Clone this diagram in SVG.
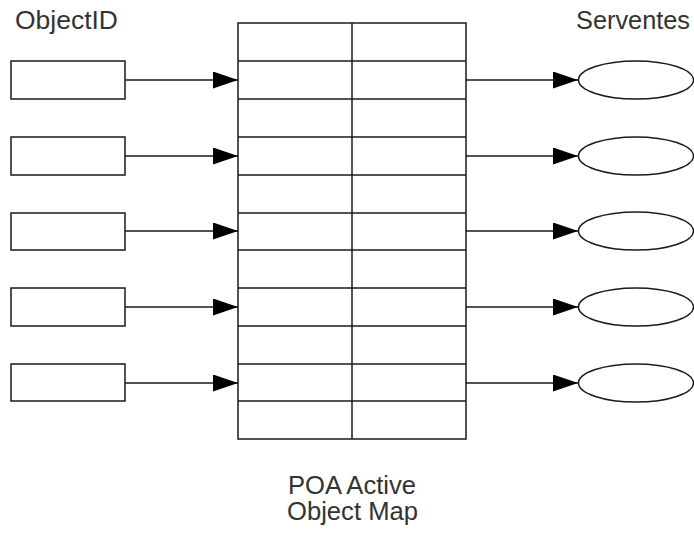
<svg xmlns="http://www.w3.org/2000/svg" width="694" height="534" viewBox="0 0 694 534">
<style>
.box{fill:#fff;stroke:#1a1a1a;stroke-width:1.5}
.tbl{fill:none;stroke:#1a1a1a;stroke-width:1.5}
.con{stroke:#1a1a1a;stroke-width:1.5;fill:none}
.lbl{font-family:"Liberation Sans",Arial,sans-serif;font-size:25px;fill:#333}
</style>
<defs>
<marker id="ah" markerUnits="userSpaceOnUse" markerWidth="26" markerHeight="18" refX="25" refY="8.5" orient="auto">
<path d="M0,0 L25,8.5 L0,17 Z" fill="#000"/>
</marker>
</defs>
<rect width="694" height="534" fill="#fff"/>
<text class="lbl" x="15" y="29" textLength="103" lengthAdjust="spacingAndGlyphs">ObjectID</text>
<text class="lbl" x="576" y="29" textLength="114" lengthAdjust="spacingAndGlyphs">Serventes</text>
<g id="map">
<rect class="tbl" x="238" y="23" width="228" height="416"/>
<line class="tbl" x1="352" y1="23" x2="352" y2="439"/>
<path class="tbl" d="M238,61H466M238,99H466M238,137H466M238,175H466M238,213H466M238,250H466M238,288H466M238,326H466M238,364H466M238,401H466"/>
<text class="lbl" x="288" y="494" textLength="128" lengthAdjust="spacingAndGlyphs">POA Active</text>
<text class="lbl" x="287" y="520" textLength="131" lengthAdjust="spacingAndGlyphs">Object Map</text>
</g>
<g id="oid1"><rect class="box" x="11" y="61" width="114" height="38"/></g>
<g id="oid2"><rect class="box" x="11" y="137" width="114" height="38"/></g>
<g id="oid3"><rect class="box" x="11" y="213" width="114" height="37"/></g>
<g id="oid4"><rect class="box" x="11" y="288" width="114" height="38"/></g>
<g id="oid5"><rect class="box" x="11" y="364" width="114" height="37"/></g>
<g id="serv1"><ellipse class="box" cx="636" cy="80" rx="57.5" ry="19"/></g>
<g id="serv2"><ellipse class="box" cx="636" cy="156" rx="57.5" ry="19"/></g>
<g id="serv3"><ellipse class="box" cx="636" cy="231" rx="57.5" ry="19"/></g>
<g id="serv4"><ellipse class="box" cx="636" cy="307" rx="57.5" ry="19"/></g>
<g id="serv5"><ellipse class="box" cx="636" cy="383" rx="57.5" ry="19"/></g>
<g id="connectors">
<line class="con" x1="125" y1="80" x2="238" y2="80" marker-end="url(#ah)"/>
<line class="con" x1="125" y1="156" x2="238" y2="156" marker-end="url(#ah)"/>
<line class="con" x1="125" y1="231" x2="238" y2="231" marker-end="url(#ah)"/>
<line class="con" x1="125" y1="307" x2="238" y2="307" marker-end="url(#ah)"/>
<line class="con" x1="125" y1="383" x2="238" y2="383" marker-end="url(#ah)"/>
<line class="con" x1="466" y1="80" x2="578" y2="80" marker-end="url(#ah)"/>
<line class="con" x1="466" y1="156" x2="578" y2="156" marker-end="url(#ah)"/>
<line class="con" x1="466" y1="231" x2="578" y2="231" marker-end="url(#ah)"/>
<line class="con" x1="466" y1="307" x2="578" y2="307" marker-end="url(#ah)"/>
<line class="con" x1="466" y1="383" x2="578" y2="383" marker-end="url(#ah)"/>
</g>
</svg>
